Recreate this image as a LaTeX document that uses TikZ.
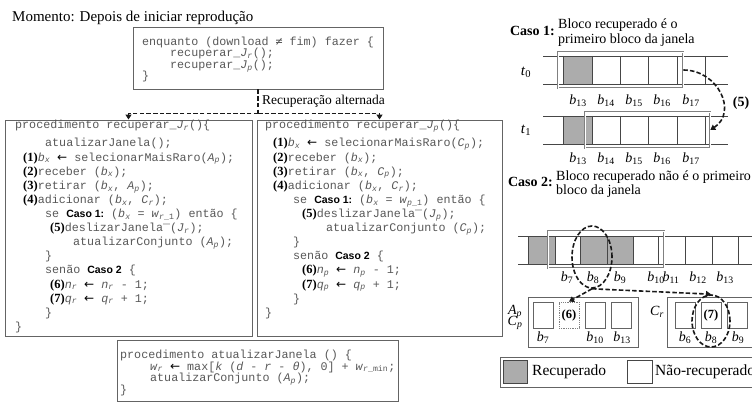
\documentclass[tikz,border=0pt]{standalone}
\usepackage{fontspec}
\setmainfont{Liberation Serif}
\setsansfont{Liberation Sans}
\setmonofont{Liberation Mono}
\newfontfamily\symfont{DejaVu Sans}
\newfontfamily\symmono{DejaVu Sans Mono}
\usetikzlibrary{arrows.meta,shapes.geometric}

\definecolor{codegray}{RGB}{88,88,88}
\definecolor{framegray}{RGB}{100,100,100}
\definecolor{cellfill}{RGB}{172,172,172}
\definecolor{cellline}{RGB}{70,70,70}
\definecolor{inkdark}{RGB}{25,25,25}

\newcommand\codefont{\ttfamily\fontsize{11.7}{11.7}\selectfont}
\newcommand\cvar[2]{\textit{#1}\textsubscript{\textit{#2}}}
\newcommand\stepno[1]{{\rmfamily\bfseries\color{black}\fontsize{12.5}{12.5}\selectfont(#1)}}
\newcommand\caso[1]{{\sffamily\bfseries\color{black}\fontsize{10.5}{10.5}\selectfont Caso #1}}
\newcommand\getsarrow{{\symfont\color{black}\fontsize{12}{12}\selectfont ←}}
\newcommand\hibar{\smash{\raisebox{0.72em}{\_}}}
\newcommand\blk[1]{\textit{b}\textsubscript{#1}}

\begin{document}
\begin{tikzpicture}[x=1pt,y=-1pt,
  codebox/.style={draw=framegray, line width=0.9pt, rectangle, inner sep=0pt},
  codeline/.style={anchor=base west, inner sep=0pt, text=codegray, font=\codefont},
  dashlink/.style={draw=inkdark, line width=1.6pt, dash pattern=on 4.5pt off 2.2pt},
  tip/.style={-{Triangle[length=5pt,width=6pt]}},
  cell/.style={draw=cellline, line width=0.8pt},
  window/.style={draw=gray, double=white, double distance=0.9pt, line width=0.6pt, rectangle, inner sep=0pt},
  serif/.style={inner sep=0pt, font=\fontsize{14}{14}\selectfont},
  casehead/.style={anchor=base east, inner sep=0pt, font=\fontsize{14}{14}\selectfont\bfseries},
  blab/.style={inner sep=0pt, font=\fontsize{14}{14}\selectfont},
  slot/.style={draw=framegray, line width=0.8pt, rectangle, inner sep=0pt, minimum width=20pt, minimum height=26pt},
  group/.style={draw=framegray, line width=1pt, rectangle, inner sep=0pt},
  ring/.style={draw=inkdark, line width=1.6pt, dash pattern=on 4.5pt off 2.2pt, ellipse, inner sep=0pt}
]
\useasboundingbox (0,0) rectangle (752,406);

% ---------- heading ----------
\node[anchor=base west, inner sep=0pt, font=\fontsize{15}{15}\selectfont] (title) at (12,22) {Momento: Depois de iniciar reprodução};

% ---------- main loop ----------
\node[codebox, minimum width=250pt, minimum height=62pt] (loopbox) at (258,58) {};
\node[codeline] (lt1) at (142,45.5) {enquanto (download {\symmono ≠} fim) fazer \{};
\node[codeline] (lt2) at (170,57) {recuperar\_\cvar{J}{r}();};
\node[codeline] (lt3) at (170,68.5) {recuperar\_\cvar{J}{p}();};
\node[codeline] (lt4) at (142,80) {\}};

% ---------- procedure for J_r ----------
\node[codebox, minimum width=247pt, minimum height=216pt] (procr) at (128.5,228) {};
\node[codeline] (lr1) at (15,129) {procedimento recuperar\_\cvar{J}{r}()\{};
\node[codeline] (lr2) at (45,147) {atualizarJanela();};
\node[codeline] (lr3) at (23,161.1) {\stepno{1}\cvar{b}{x} \getsarrow{} selecionarMaisRaro(\cvar{A}{p});};
\node[codeline] (lr4) at (23,175.2) {\stepno{2}receber (\cvar{b}{x});};
\node[codeline] (lr5) at (23,189.3) {\stepno{3}retirar (\cvar{b}{x}, \cvar{A}{p});};
\node[codeline] (lr6) at (23,203.4) {\stepno{4}adicionar (\cvar{b}{x}, \cvar{C}{r});};
\node[codeline] (lr7) at (45,217.5) {se \caso{1:} (\cvar{b}{x} = \textit{w}\textsubscript{\textit{r}\_1}) então \{};
\node[codeline] (lr8) at (50,231.6) {\stepno{5}deslizarJanela\hibar(\cvar{J}{r});};
\node[codeline] (lr9) at (73,245.7) {atualizarConjunto (\cvar{A}{p});};
\node[codeline] (lr10) at (45,259.8) {\}};
\node[codeline] (lr11) at (45,273.9) {senão \caso{2} \{};
\node[codeline] (lr12) at (50,288) {\stepno{6}\cvar{n}{r} \getsarrow{} \cvar{n}{r} - 1;};
\node[codeline] (lr13) at (50,302.1) {\stepno{7}\cvar{q}{r} \getsarrow{} \cvar{q}{r} + 1;};
\node[codeline] (lr14) at (45,316.2) {\}};
\node[codeline] (lr15) at (15,330.3) {\}};

% ---------- procedure for J_p ----------
\node[codebox, minimum width=245pt, minimum height=216pt] (procp) at (379.5,228) {};
\node[codeline] (lp1) at (265,129) {procedimento recuperar\_\cvar{J}{p}()\{};
\node[codeline] (lp2) at (273,147) {\stepno{1}\cvar{b}{x} \getsarrow{} selecionarMaisRaro(\cvar{C}{p});};
\node[codeline] (lp3) at (273,161.1) {\stepno{2}receber (\cvar{b}{x});};
\node[codeline] (lp4) at (273,175.2) {\stepno{3}retirar (\cvar{b}{x}, \cvar{C}{p});};
\node[codeline] (lp5) at (273,189.3) {\stepno{4}adicionar (\cvar{b}{x}, \cvar{C}{r});};
\node[codeline] (lp6) at (293,203.4) {se \caso{1:} (\cvar{b}{x} = \textit{w}\textsubscript{\textit{p}\_1}) então \{};
\node[codeline] (lp7) at (302,217.5) {\stepno{5}deslizarJanela\hibar(\cvar{J}{p});};
\node[codeline] (lp8) at (326,231.6) {atualizarConjunto (\cvar{C}{p});};
\node[codeline] (lp9) at (293,245.7) {\}};
\node[codeline] (lp10) at (293,259.8) {senão \caso{2} \{};
\node[codeline] (lp11) at (302,273.9) {\stepno{6}\cvar{n}{p} \getsarrow{} \cvar{n}{p} - 1;};
\node[codeline] (lp12) at (302,288) {\stepno{7}\cvar{q}{p} \getsarrow{} \cvar{q}{p} + 1;};
\node[codeline] (lp13) at (293,302.1) {\}};
\node[codeline] (lp14) at (265,316.2) {\}};

% ---------- window update procedure ----------
\node[codebox, minimum width=281pt, minimum height=61pt] (updbox) at (257.5,370.5) {};
\node[codeline] (lu1) at (120,358.5) {procedimento atualizarJanela () \{};
\node[codeline] (lu2) at (150,370) {\textit{w}\textsubscript{\textit{r}} \getsarrow{} max[\textit{k} (\textit{d} - \textit{r} - \textit{θ}), 0] + \textit{w}\textsubscript{\textit{r}\_min};};
\node[codeline] (lu3) at (150,381.5) {atualizarConjunto (\cvar{A}{p});};
\node[codeline] (lu4) at (120,393) {\}};

% ---------- alternating calls ----------
\coordinate (fork) at (258,113.5);
\draw[dashlink] (loopbox.south) -- (fork);
\draw[dashlink, tip] (fork) -| (procr.north);
\draw[dashlink, tip] (fork) -| (procp.north);
\node[anchor=base west, inner sep=0pt, font=\fontsize{13.5}{13.5}\selectfont] (altlabel) at (262,105) {Recuperação alternada};

% ---------- case 1 ----------
\node[casehead] (caso1) at (555,36) {Caso 1:};
\node[anchor=base west, serif] (c1a) at (558,29) {Bloco recuperado é o};
\node[anchor=base west, serif] (c1b) at (558,44) {primeiro bloco da janela};

\node[inner sep=0pt, font=\fontsize{15}{15}\selectfont] (t0) at (526,72) {\textit{t}\textsubscript{0}};
\fill[cellfill] (563,56) rectangle (592,84);
\draw[cell] (543,56) -- (728,56) (543,84) -- (728,84);
\foreach \x in {563,592,620,648,677,705} \draw[cell] (\x,56) -- (\x,84);
\node[window, minimum width=125pt, minimum height=36pt] (win0) at (620.5,70) {};
\node[blab] (r0b13) at (578,101) {\blk{13}};
\node[blab] (r0b14) at (606,101) {\blk{14}};
\node[blab] (r0b15) at (634,101) {\blk{15}};
\node[blab] (r0b16) at (662,101) {\blk{16}};
\node[blab] (r0b17) at (691,101) {\blk{17}};

\node[inner sep=0pt, font=\fontsize{15}{15}\selectfont] (t1) at (526,130) {\textit{t}\textsubscript{1}};
\fill[cellfill] (563,116) rectangle (592,144);
\draw[cell] (543,116) -- (728,116) (543,144) -- (728,144);
\foreach \x in {563,592,620,648,677,705} \draw[cell] (\x,116) -- (\x,144);
\node[window, minimum width=125pt, minimum height=36pt] (win1) at (647.5,130) {};
\node[blab] (r1b13) at (578,159) {\blk{13}};
\node[blab] (r1b14) at (606,159) {\blk{14}};
\node[blab] (r1b15) at (634,159) {\blk{15}};
\node[blab] (r1b16) at (662,159) {\blk{16}};
\node[blab] (r1b17) at (691,159) {\blk{17}};

\draw[dashlink, tip] (win0.east) .. controls (718,70) and (738,112) .. (win1.east);
\node[inner sep=0pt, font=\fontsize{14}{14}\selectfont\bfseries] (slide) at (741,103) {(5)};

% ---------- case 2 ----------
\node[casehead] (caso2) at (553,187) {Caso 2:};
\node[anchor=base west, serif] (c2a) at (556,181) {Bloco recuperado não é o primeiro};
\node[anchor=base west, serif] (c2b) at (556,195) {bloco da janela};

\fill[cellfill] (528,236) rectangle (555,264);
\fill[cellfill] (580,236) rectangle (633,264);
\draw[cell] (518,236) -- (760,236) (518,264) -- (760,264);
\foreach \x in {528,555,580,607,633,658,685,712,738} \draw[cell] (\x,236) -- (\x,264);
\node[window, minimum width=116pt, minimum height=37pt] (win2) at (606,249.5) {};
\node[blab] (q7) at (567,278) {\blk{7}};
\node[blab] (q8) at (593,278) {\blk{8}};
\node[blab] (q9) at (620,278) {\blk{9}};
\node[blab] (q10) at (656,278) {\blk{10}};
\node[blab] (q11) at (671,278) {\blk{11}};
\node[blab] (q12) at (698,278) {\blk{12}};
\node[blab] (q13) at (725,278) {\blk{13}};
\node[ring, minimum width=40pt, minimum height=62pt] (e8) at (592,257) {};

% sets A_p / C_p and C_r
\node[group, minimum width=110pt, minimum height=50pt] (apbox) at (583,322) {};
\node[blab] (aplab) at (515,312) {\cvar{A}{p}};
\node[blab] (cplab) at (515,323) {\cvar{C}{p}};
\node[slot] (ap1) at (543,315) {};
\node[slot, draw=gray, densely dotted] (p6) at (569,315) {\stepno{6}};
\node[slot] (ap3) at (595,315) {};
\node[slot] (ap4) at (621.5,315) {};
\node[blab] (s7) at (543,338) {\blk{7}};
\node[blab] (s10) at (595,338) {\blk{10}};
\node[blab] (s13) at (622,338) {\blk{13}};

\node[group, minimum width=103pt, minimum height=50pt] (crbox) at (718.5,322) {};
\node[blab] (crlab) at (657,312) {\cvar{C}{r}};
\node[slot] (cr1) at (685,315) {};
\node[slot] (cr2) at (711,315) {\stepno{7}};
\node[slot] (cr3) at (737,315) {};
\node[blab] (u6) at (685,338) {\blk{6}};
\node[blab] (u8) at (711,338) {\blk{8}};
\node[blab] (u9) at (738,338) {\blk{9}};
\node[ring, minimum width=38pt, minimum height=52pt] (e7) at (711,321) {};

\draw[dashlink, tip] (e8.south) -- (p6.north);
\draw[dashlink, tip] (e8.south) -- (e7.north);

% ---------- legend ----------
\node[group, minimum width=270pt, minimum height=30pt] (legend) at (635,372) {};
\node[draw=cellline, fill=cellfill, line width=0.8pt, inner sep=0pt, minimum width=24pt, minimum height=23pt] (lgfull) at (515,371.5) {};
\node[anchor=west, inner sep=0pt, font=\fontsize{15.5}{15.5}\selectfont] (lgfulltxt) at (532,372) {Recuperado};
\node[draw=cellline, line width=0.8pt, inner sep=0pt, minimum width=25pt, minimum height=23pt] (lgempty) at (639.5,371.5) {};
\node[anchor=west, inner sep=0pt, font=\fontsize{15.5}{15.5}\selectfont] (lgemptytxt) at (655,372) {Não-recuperado};
\end{tikzpicture}
\end{document}
